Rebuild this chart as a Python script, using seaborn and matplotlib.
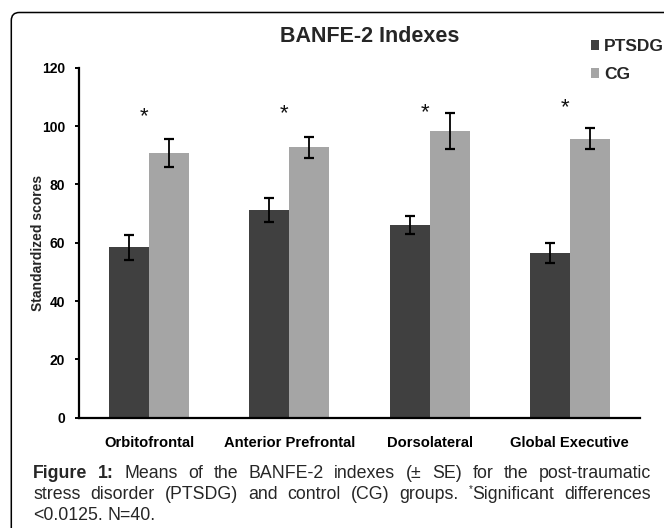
import matplotlib
matplotlib.use("Agg")
import matplotlib.pyplot as plt
import matplotlib.patches as mpatches
import matplotlib.transforms as mtransforms
import pandas as pd
import seaborn as sns

# values
indexes = ["Orbitofrontal", "Anterior Prefrontal", "Dorsolateral", "Global Executive"]
groups = ["PTSDG", "CG"]
ptsdg_mean = [58.4, 71.3, 66.0, 56.5]
ptsdg_se = [4.4, 4.1, 3.1, 3.4]
cg_mean = [90.8, 92.8, 98.2, 95.7]
cg_se = [4.8, 3.6, 6.1, 3.6]
star_y = [105.3, 106.3, 106.7, 108.4]
yticks = [0, 20, 40, 60, 80, 100, 120]

DARK = "#404040"
LIGHT = "#a5a5a5"

W, H = 664, 528

df = pd.DataFrame({
    "index": indexes * 2,
    "score": ptsdg_mean + cg_mean,
    "group": [groups[0]] * 4 + [groups[1]] * 4,
})

sns.set_theme(style="white")
plt.rcParams["font.family"] = ["Liberation Sans", "DejaVu Sans"]

fig = plt.figure(figsize=(W / 100, H / 100), dpi=100)
ax = fig.add_axes([79 / W, 1 - 417.7 / H, 561 / W, 350 / H])

sns.barplot(data=df, x="index", y="score", hue="group", hue_order=groups,
            order=indexes, palette=[DARK, LIGHT], width=0.571, gap=0,
            errorbar=None, saturation=1, linewidth=0, ax=ax)

for cont, ses in zip(ax.containers, [ptsdg_se, cg_se]):
    for bar, se in zip(cont, ses):
        xc = bar.get_x() + bar.get_width() / 2
        ax.errorbar(xc, bar.get_height(), yerr=se, color="black",
                    elinewidth=1.3, capsize=3.5, capthick=1.6, fmt="none", zorder=5)

# significance stars
star_shift = mtransforms.offset_copy(ax.transData, fig=fig, x=0, y=-12, units="dots")
for i, yv in enumerate(star_y):
    ax.text(i - 0.035, yv, "*", ha="center", va="baseline", fontsize=16,
            transform=star_shift, color="#111111")

ax.set_ylim(0, 120)
ax.set_yticks(yticks)
ax.set_xlim(-0.5, 3.5)
ax.set_xlabel("")
ax.set_ylabel("Standardized scores", fontsize=10, fontweight="bold")
ax.yaxis.set_label_coords((45 - 79) / 561, 0.5)

for s in ["top", "right"]:
    ax.spines[s].set_visible(False)
for s in ["left", "bottom"]:
    ax.spines[s].set_color("black")
    ax.spines[s].set_linewidth(1.6)

ax.tick_params(axis="y", left=True, length=3, width=1.4, color="black",
               pad=7, labelsize=10)
ax.tick_params(axis="x", bottom=False, length=0, pad=13, labelsize=10.6)
for lab in ax.get_xticklabels() + ax.get_yticklabels():
    lab.set_fontweight("bold")
    lab.set_color("black")

sns.move_legend(ax, "upper left", bbox_to_anchor=(591 / W, 1 - 39 / H),
                bbox_transform=fig.transFigure, title=None, frameon=False,
                prop={"weight": "bold", "size": 12.5}, handlelength=0.47,
                handleheight=0.47, handletextpad=0.3, labelspacing=0.75,
                borderpad=0, borderaxespad=0)

fig.text(370 / W, 1 - 37 / H, "BANFE-2 Indexes", ha="center", va="center",
         fontsize=15.5, fontweight="bold")

# frame around the figure panel
frame = mpatches.FancyBboxPatch((0.113, -0.5), 8.0, (H - 12.5) / 100 + 0.5,
                                boxstyle="round,pad=0,rounding_size=0.08",
                                transform=fig.dpi_scale_trans, fill=False,
                                edgecolor="black", linewidth=1.1)
fig.add_artist(frame)

# caption, justified like the journal layout
caption = [
    ("Figure 1:", "Means of the BANFE-2 indexes (± SE) for the post-traumatic", True, 477.7),
    ("", "stress disorder (PTSDG) and control (CG) groups. *Significant differences", True, 499.0),
    ("", "<0.0125. N=40.", False, 520.2),
]
x0, x1 = 33, 651
fsize = 12.8
fig.canvas.draw()
renderer = fig.canvas.get_renderer()
for bold_part, normal_part, justify, ybase in caption:
    words = [(w, "bold") for w in bold_part.split()] + [(w, "normal") for w in normal_part.split()]
    pieces = []
    for w, wt in words:
        segs = []
        if w.startswith("*"):
            segs.append((fig.text(0, 0, "*", fontsize=7, fontweight=wt, va="baseline"), 7))
            w = w[1:]
        segs.append((fig.text(0, 0, w, fontsize=fsize, fontweight=wt, va="baseline"), 0))
        widths = [t.get_window_extent(renderer).width for t, _ in segs]
        pieces.append((segs, widths))
    total = sum(sum(wd) for _, wd in pieces)
    if justify:
        gap = (x1 - x0 - total) / (len(pieces) - 1)
    else:
        gap = 0.278 * fsize * 100 / 72
    x = x0
    for segs, widths in pieces:
        for (t, dy), wd in zip(segs, widths):
            t.set_position((x / W, 1 - (ybase - dy) / H))
            x += wd
        x += gap

fig.savefig("out.png", dpi=100)
